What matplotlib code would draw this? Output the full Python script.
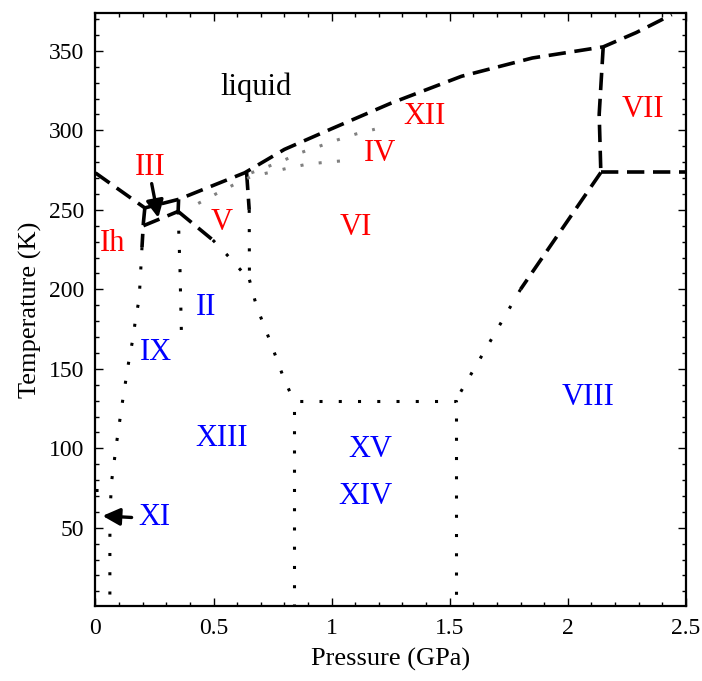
import matplotlib
matplotlib.use("Agg")
import matplotlib.pyplot as plt
import numpy as np

plt.rcParams['font.family'] = 'serif'
plt.rcParams['font.serif'] = ['Liberation Serif', 'DejaVu Serif']

# ---- phase boundaries (pressure GPa, temperature K) ----
# solid lines drawn dashed (measured), extrapolated parts drawn dotted
melt_P = [0.0, 0.209, 0.352, 0.632, 0.80, 1.00, 1.25, 1.55, 1.85, 2.15, 2.29, 2.39, 2.44]
melt_T = [273.2, 251.2, 256.6, 273.3, 288.0, 301.0, 317.0, 334.0, 345.5, 352.5, 361.5, 369.0, 372.8]

ih_dash_P = [0.209, 0.203, 0.197]
ih_dash_T = [251.2, 242.0, 226.5]
ih_dot_P = [0.197, 0.185, 0.170, 0.159, 0.138, 0.113, 0.090, 0.069, 0.062, 0.061, 0.061]
ih_dot_T = [226.5, 194.0, 181.5, 169.5, 152.0, 128.0, 104.0, 80.0, 62.0, 43.0, 0.0]

ii_iii_P = [0.203, 0.350]
ii_iii_T = [240.0, 249.0]
iii_v_P = [0.350, 0.352]
iii_v_T = [249.0, 256.6]

ii_v_dash_P = [0.350, 0.497]
ii_v_dash_T = [249.0, 231.0]
ii_v_dot_P = [0.497, 0.555, 0.612, 0.652]
ii_v_dot_T = [231.0, 222.0, 212.6, 206.0]

v_vi_dash_P = [0.640, 0.651]
v_vi_dash_T = [273.3, 250.0]
v_vi_dot_P = [0.651, 0.652]
v_vi_dot_T = [250.0, 206.0]

ii_vi_P = [0.652, 0.682, 0.742, 0.798, 0.840]
ii_vi_T = [206.0, 189.3, 166.4, 143.8, 130.0]

ix_P = [0.350, 0.358, 0.365]
ix_T = [249.0, 212.0, 165.0]

xi_P = [0.0, 0.062]
xi_T = [73.5, 73.5]

box_P = [0.840, 0.840, 1.525, 1.525]
box_T = [0.0, 130.0, 130.0, 0.0]

vi_vii_P = [2.150, 2.133, 2.140]
vi_vii_T = [352.5, 310.0, 273.5]
vii_viii_P = [2.140, 2.500]
vii_viii_T = [273.5, 273.5]

vi_viii_dash_P = [2.140, 1.800]
vi_viii_dash_T = [273.5, 200.0]
vi_viii_dot_P = [1.800, 1.525]
vi_viii_dot_T = [200.0, 130.0]

# metastable lines (grey dots)
iv_P = [0.435, 0.510, 0.583, 0.660, 0.740, 0.820, 0.900, 0.980, 1.060]
iv_T = [254.0, 260.0, 265.6, 271.0, 273.6, 276.4, 278.8, 280.0, 281.0]
xii_P = [0.660, 0.718, 0.795, 0.870, 0.948, 1.025, 1.103, 1.183]
xii_T = [273.3, 276.5, 281.0, 286.0, 290.0, 294.0, 297.7, 300.7]

# ---- labels ----
label_text = ['liquid', 'XII', 'VII', 'IV', 'III', 'V', 'VI', 'Ih',
              'II', 'IX', 'VIII', 'XIII', 'XV', 'XIV', 'XI']
label_P = [0.68, 1.395, 2.32, 1.204, 0.231, 0.536, 1.103, 0.074,
           0.468, 0.256, 2.085, 0.536, 1.162, 1.145, 0.249]
label_T = [327.3, 308.4, 312.8, 285.7, 276.9, 242.3, 239.1, 229.0,
           188.7, 160.3, 132.0, 106.2, 99.2, 69.6, 56.4]
label_col = ['k', 'r', 'r', 'r', 'r', 'r', 'r', 'r',
             'b', 'b', 'b', 'b', 'b', 'b', 'b']

xticks = [0, 0.5, 1, 1.5, 2, 2.5]
xticklabels = ['0', '0.5', '1', '1.5', '2', '2.5']
yticks = [50, 100, 150, 200, 250, 300, 350]

fig = plt.figure(figsize=(7.02, 6.81), dpi=100)
ax = fig.add_axes([0.136, 0.1094, 0.841, 0.8708])

dash = dict(color='k', lw=2.6, linestyle=(0, (4.8, 2.4)), dash_capstyle='butt')
dot = dict(color='k', lw=2.2, linestyle=(0, (1, 5.3)), dash_capstyle='butt')
gdot = dict(color='gray', lw=2.2, linestyle=(0, (1, 5.0)), dash_capstyle='butt')

for P, T in [(melt_P, melt_T), (ih_dash_P, ih_dash_T), (ii_iii_P, ii_iii_T),
             (iii_v_P, iii_v_T), (ii_v_dash_P, ii_v_dash_T), (v_vi_dash_P, v_vi_dash_T),
             (vi_vii_P, vi_vii_T), (vii_viii_P, vii_viii_T), (vi_viii_dash_P, vi_viii_dash_T)]:
  ax.plot(P, T, **dash)

for P, T in [(ih_dot_P, ih_dot_T), (ii_v_dot_P, ii_v_dot_T), (v_vi_dot_P, v_vi_dot_T),
             (ii_vi_P, ii_vi_T), (ix_P, ix_T), (xi_P, xi_T), (box_P, box_T),
             (vi_viii_dot_P, vi_viii_dot_T)]:
  ax.plot(P, T, **dot)

ax.plot(iv_P, iv_T, **gdot)
ax.plot(xii_P, xii_T, **gdot)

for s, p, t, c in zip(label_text, label_P, label_T, label_col):
  ax.text(p, t, s, color=c, fontsize=22, ha='center', va='center')

arrow = dict(arrowstyle='-|>', color='k', lw=2.4, mutation_scale=26, shrinkA=0, shrinkB=0)
ax.annotate('', xy=(0.266, 245.0), xytext=(0.238, 266.5), arrowprops=arrow)
ax.annotate('', xy=(0.030, 57.5), xytext=(0.153, 56.5), arrowprops=arrow)

ax.set_xlim(0, 2.5)
ax.set_ylim(0.5, 373.5)
ax.set_xticks(xticks)
ax.set_xticklabels(xticklabels)
ax.set_yticks(yticks)
ax.set_xticks(np.arange(0, 2.51, 0.1), minor=True)
ax.set_yticks(np.arange(10, 371, 10), minor=True)
ax.tick_params(which='both', direction='in', top=True, right=True, labelsize=17, width=1)
ax.tick_params(which='major', length=6, pad=8)
ax.tick_params(which='minor', length=3)
for sp in ax.spines.values():
  sp.set_linewidth(1.6)

ax.set_xlabel('Pressure (GPa)', fontsize=19, labelpad=7)
ax.set_ylabel('Temperature (K)', fontsize=19, labelpad=5)

fig.savefig('out.png', dpi=100)
